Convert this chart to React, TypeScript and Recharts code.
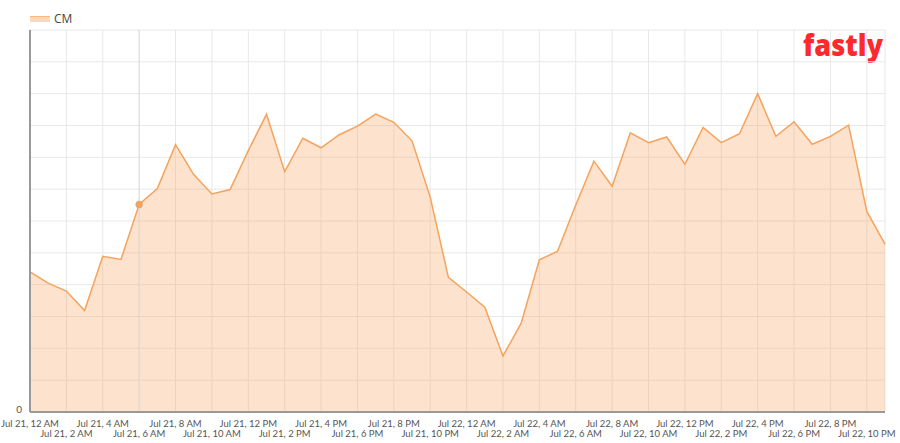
import React from "react"
import { AreaChart, Area, XAxis, YAxis, CartesianGrid, ReferenceLine } from "recharts"

const DAYS = ["Jul 21", "Jul 22"]
const HOURS = [
  "12 AM", "1 AM", "2 AM", "3 AM", "4 AM", "5 AM", "6 AM", "7 AM", "8 AM", "9 AM", "10 AM", "11 AM",
  "12 PM", "1 PM", "2 PM", "3 PM", "4 PM", "5 PM", "6 PM", "7 PM", "8 PM", "9 PM", "10 PM", "11 PM",
]

// CM per hour
const CM_VALUES = [
  4.4, 4.05, 3.8, 3.19, 4.89, 4.79, 6.52, 7.02, 8.4, 7.46, 6.85, 6.99,
  8.21, 9.35, 7.55, 8.6, 8.3, 8.71, 8.98, 9.36, 9.1, 8.52, 6.75, 4.23,
  3.77, 3.29, 1.76, 2.79, 4.78, 5.05, 6.5, 7.88, 7.09, 8.77, 8.46, 8.64,
  7.78, 8.94, 8.46, 8.74, 10.0, 8.66, 9.12, 8.41, 8.66, 9.01, 6.3, 5.27,
]

const Y_TICKS = [0, 1, 2, 3, 4, 5, 6, 7, 8, 9, 10, 11, 12]
const HIGHLIGHT = "Jul 21, 6 AM"

const labels = DAYS.flatMap((d) => HOURS.map((h) => `${d}, ${h}`))
const data = labels.map((time, i) => ({ time, cm: CM_VALUES[i] }))

const FONT = "'Open Sans', sans-serif"
const TICK_FONT = "Lato, sans-serif"

function TimeTick(props: any) {
  const { x, y, payload } = props
  const idx = labels.indexOf(payload.value)
  const second = (idx / 2) % 2 === 1
  return (
    <text
      x={x}
      y={y}
      dy={second ? 23 : 12.5}
      textAnchor="middle"
      fill="#555"
      fontSize={9.5}
      fontFamily={TICK_FONT}
    >
      {payload.value}
    </text>
  )
}

function HighlightDot(props: any) {
  const { cx, cy, payload } = props
  if (payload.time !== HIGHLIGHT) return null
  return <circle cx={cx} cy={cy} r={3.5} fill="#f4a25c" stroke="rgba(180,160,140,0.35)" strokeWidth={1} />
}

export default function App() {
  return (
    <div style={{ position: "absolute", left: 0, top: 0, width: 900, height: 443, background: "#fff" }}>
      <div
        style={{
          position: "absolute",
          left: 30,
          top: 10,
          display: "flex",
          alignItems: "center",
          fontFamily: FONT,
          fontSize: 12,
          color: "#444",
        }}
      >
        <span style={{ display: "inline-block", width: 20, height: 5, background: "#fcd9bb", borderTop: "1px solid #f8b880", marginRight: 4 }} />
        CM
      </div>
      <svg style={{ position: "absolute", left: 790, top: 24 }} width={110} height={44}>
        <text
          x={13}
          y={32}
          fill="#ff282d"
          fontSize={30}
          fontWeight={800}
          fontFamily={FONT}
          textLength={80}
          lengthAdjust="spacingAndGlyphs"
        >
          fastly
        </text>
      </svg>
      <AreaChart width={900} height={443} data={data} margin={{ top: 30, right: 15, left: 0, bottom: 0 }}>
        <CartesianGrid stroke="#e8e8e8" />
        <XAxis
          dataKey="time"
          interval={1}
          tickLine={false}
          tickSize={0}
          height={31}
          axisLine={{ stroke: "#999", strokeWidth: 2 }}
          tick={<TimeTick />}
        />
        <YAxis
          width={30}
          domain={[0, 12]}
          ticks={Y_TICKS}
          tickLine={false}
          axisLine={{ stroke: "#999", strokeWidth: 2 }}
          tick={{ fill: "#555", fontSize: 10, fontFamily: TICK_FONT, dy: -3 }}
          tickFormatter={(v) => (v === 0 ? "0" : "")}
        />
        <ReferenceLine x={HIGHLIGHT} stroke="#dcdcdc" />
        <Area
          type="linear"
          dataKey="cm"
          stroke="#f5a35c"
          strokeWidth={1.5}
          fill="#f8a05a"
          fillOpacity={0.3}
          dot={<HighlightDot />}
          activeDot={false}
          isAnimationActive={false}
        />
      </AreaChart>
    </div>
  )
}
